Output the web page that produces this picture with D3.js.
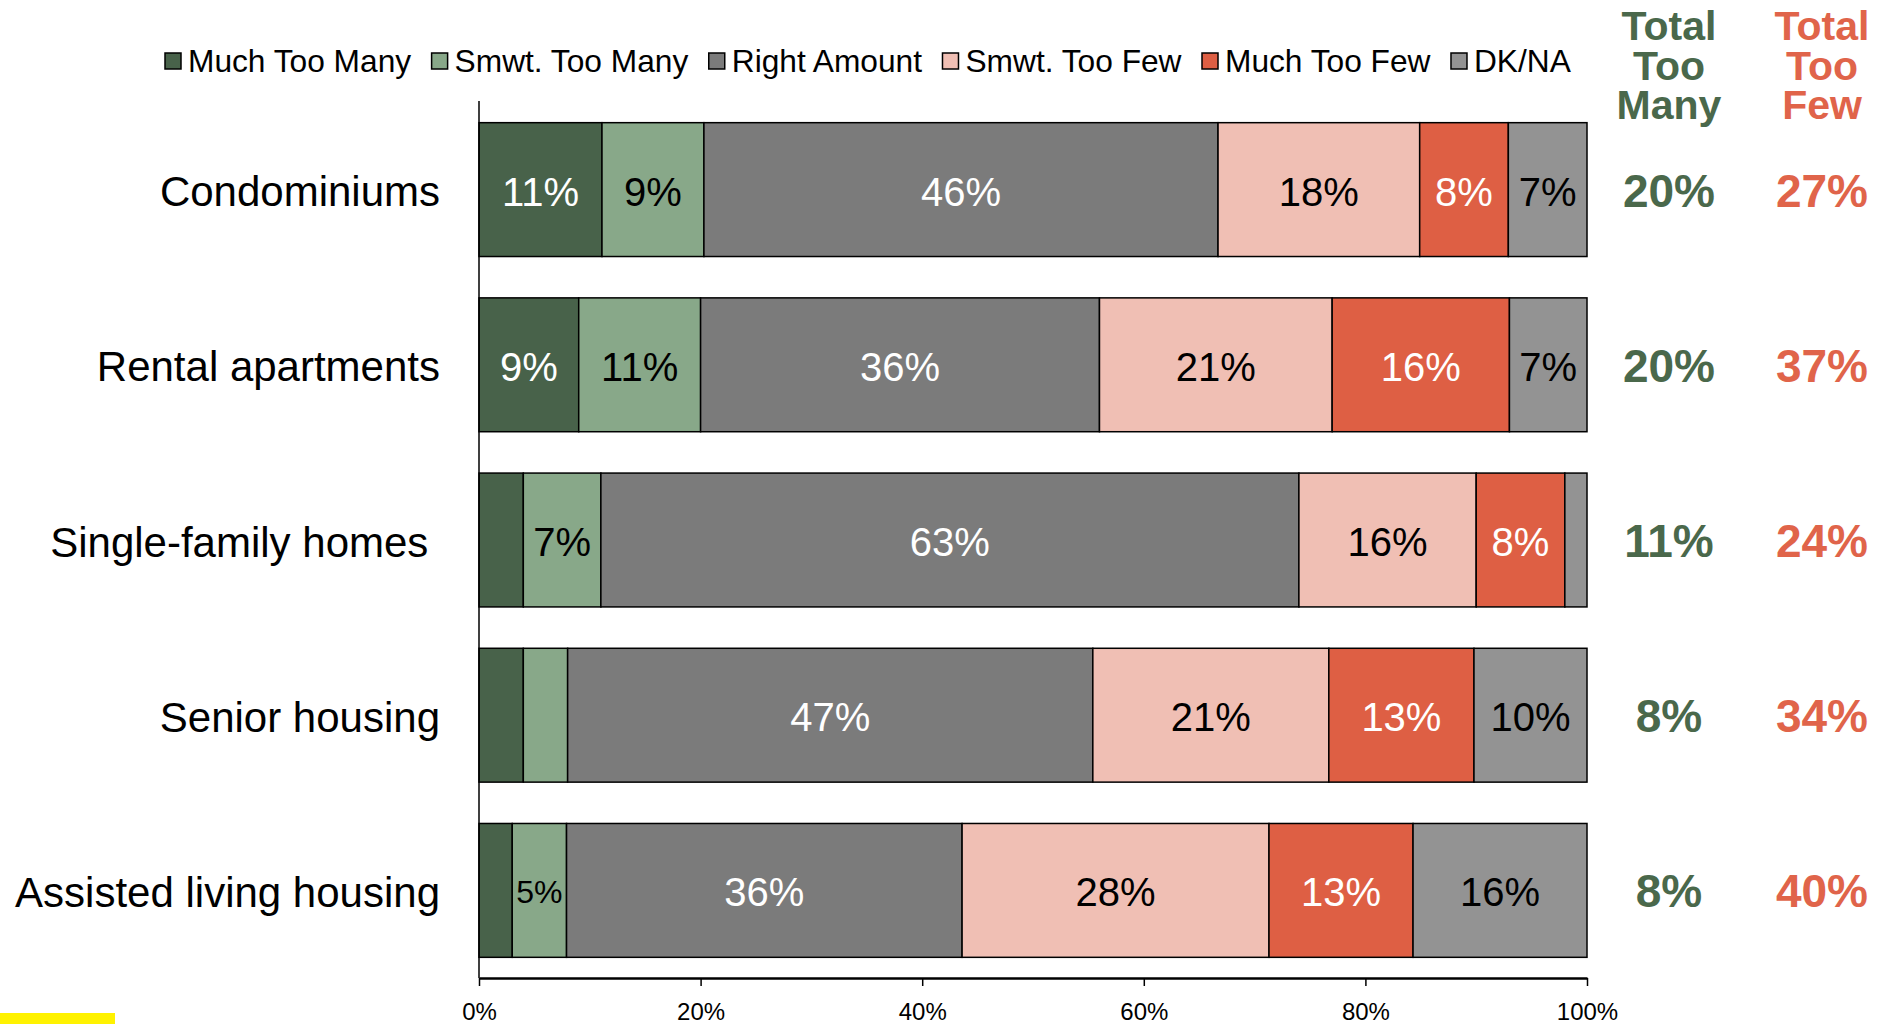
<!DOCTYPE html>
<html>
<head>
<meta charset="utf-8">
<script src="https://cdn.jsdelivr.net/npm/d3@7"></script>
<style>
  body { margin: 0; background: #fff; }
  svg { display: block; font-family: "Liberation Sans", Arial, sans-serif; }
</style>
</head>
<body>
<svg id="chart" width="1892" height="1024"></svg>
<script>
const categories = ['Condominiums', 'Rental apartments', 'Single-family homes ', 'Senior housing', 'Assisted living housing'];
const seriesNames = ['Much Too Many', 'Smwt. Too Many', 'Right Amount', 'Smwt. Too Few', 'Much Too Few', 'DK/NA'];
const seriesColors = ['#48624a', '#88a889', '#7b7b7b', '#f0bfb4', '#de5f44', '#939393'];
const labelColors = ['#fff', '#000', '#fff', '#000', '#fff', '#000'];

const muchTooMany = [11.1, 9.0, 4.0, 4.0, 3.0];
const smwtTooMany = [9.2, 11.0, 7.0, 4.0, 4.9];
const rightAmount = [46.4, 36.0, 63.0, 47.4, 35.7];
const smwtTooFew = [18.2, 21.0, 16.0, 21.3, 27.7];
const muchTooFew = [8.0, 16.0, 8.0, 13.1, 13.0];
const dkNa = [7.1, 7.0, 2.0, 10.2, 15.7];

const totalTooMany = [20, 20, 11, 8, 8];
const totalTooFew = [27, 37, 24, 34, 40];
const xTicks = [0, 20, 40, 60, 80, 100];

const series = [muchTooMany, smwtTooMany, rightAmount, smwtTooFew, muchTooFew, dkNa];

const margin = {top: 102, left: 479, right: 305, bottom: 46};
const svg = d3.select('#chart');
const width = +svg.attr('width') - margin.left - margin.right;
const height = +svg.attr('height') - margin.top - margin.bottom;

// one row per category, keys = series names
const table = categories.map(function(c, i) {
  const row = {category: c, index: i};
  seriesNames.forEach(function(s, j) { row[s] = series[j][i]; });
  return row;
});

const stacked = d3.stack().keys(seriesNames)(table);

const x = d3.scaleLinear().domain([0, 100]).range([0, width]);
const y = d3.scaleBand()
  .domain(categories)
  .range([0, height])
  .paddingInner(0.236)
  .paddingOuter(0.118);

const g = svg.append('g')
  .attr('transform', 'translate(' + margin.left + ',' + margin.top + ')');

// bars
const layers = g.selectAll('.layer')
  .data(stacked)
  .enter().append('g')
  .attr('class', 'layer');

layers.each(function(layer, li) {
  d3.select(this).selectAll('rect')
    .data(layer)
    .enter().append('rect')
    .attr('x', function(d) { return x(d[0]); })
    .attr('y', function(d) { return y(d.data.category); })
    .attr('width', function(d) { return x(d[1]) - x(d[0]); })
    .attr('height', y.bandwidth())
    .attr('fill', seriesColors[li])
    .attr('stroke', '#000')
    .attr('stroke-width', 1.5);
});

// value labels inside the segments
layers.each(function(layer, li) {
  d3.select(this).selectAll('text')
    .data(layer.filter(function(d) { return d[1] - d[0] >= 4.5; }))
    .enter().append('text')
    .attr('x', function(d) { return (x(d[0]) + x(d[1])) / 2; })
    .attr('y', function(d) { return y(d.data.category) + y.bandwidth() / 2 + 2; })
    .attr('text-anchor', 'middle')
    .attr('dominant-baseline', 'central')
    .attr('font-size', 40)
    .attr('fill', labelColors[li])
    .text(function(d) { return Math.round(d[1] - d[0]) + '%'; })
    .each(function(d) {
      // shrink labels that don't fit their segment
      const w = x(d[1]) - x(d[0]);
      const len = this.getComputedTextLength();
      if (len > w - 8) d3.select(this).attr('font-size', 40 * (w - 8) / len);
    });
});

// category labels
g.selectAll('.cat')
  .data(categories)
  .enter().append('text')
  .attr('class', 'cat')
  .attr('x', -39)
  .attr('y', function(d) { return y(d) + y.bandwidth() / 2 + 2; })
  .attr('text-anchor', 'end')
  .attr('dominant-baseline', 'central')
  .attr('font-size', 42)
  .style('white-space', 'pre')
  .text(function(d) { return d; });

// left axis line
g.append('line')
  .attr('x1', 0).attr('x2', 0)
  .attr('y1', -1).attr('y2', height)
  .attr('stroke', '#000')
  .attr('stroke-width', 1.5);

// bottom axis
const xAxis = g.append('g')
  .attr('class', 'axis axis-x')
  .attr('transform', 'translate(0,' + height + ')')
  .call(d3.axisBottom(x)
    .tickValues(xTicks)
    .tickFormat(function(d) { return d + '%'; })
    .tickSizeInner(8)
    .tickSizeOuter(0)
    .tickPadding(17));

xAxis.select('.domain').attr('stroke', '#000').attr('stroke-width', 2.5);
xAxis.selectAll('.tick line').attr('stroke', '#000').attr('stroke-width', 1.5);
xAxis.selectAll('.tick text')
  .attr('fill', '#000')
  .attr('font-size', 24)
  .attr('font-family', '"Liberation Sans", Arial, sans-serif');

// totals columns
const totalCols = [
  {head: ['Total', 'Too', 'Many'], values: totalTooMany, color: '#4a684b', dx: 82},
  {head: ['Total', 'Too', 'Few'], values: totalTooFew, color: '#e0644a', dx: 235}
];

totalCols.forEach(function(col) {
  const cx = width + col.dx;
  const head = g.append('text')
    .attr('text-anchor', 'middle')
    .attr('font-size', 41)
    .attr('font-weight', 'bold')
    .attr('fill', col.color);
  col.head.forEach(function(line, i) {
    head.append('tspan')
      .attr('x', cx)
      .attr('y', -margin.top + 40 + i * 39.5)
      .text(line);
  });

  g.selectAll(null)
    .data(col.values)
    .enter().append('text')
    .attr('x', cx)
    .attr('y', function(d, i) { return y(categories[i]) + y.bandwidth() / 2 + 1; })
    .attr('text-anchor', 'middle')
    .attr('dominant-baseline', 'central')
    .attr('font-size', 46)
    .attr('font-weight', 'bold')
    .attr('fill', col.color)
    .text(function(d) { return d + '%'; });
});

// legend
const legend = svg.append('g').attr('transform', 'translate(165,61)');
let lx = 0;
seriesNames.forEach(function(name, i) {
  const item = legend.append('g').attr('transform', 'translate(' + lx + ',0)');
  item.append('rect')
    .attr('x', 0).attr('y', -8)
    .attr('width', 16).attr('height', 16)
    .attr('fill', seriesColors[i])
    .attr('stroke', '#000')
    .attr('stroke-width', 1.5);
  const t = item.append('text')
    .attr('x', 23)
    .attr('y', 0)
    .attr('dominant-baseline', 'central')
    .attr('font-size', 31.7)
    .attr('fill', '#000')
    .text(name);
  lx += 23 + t.node().getComputedTextLength() + 20.5;
});

// small yellow marker at the bottom-left corner
svg.append('rect')
  .attr('x', 0).attr('y', 1013)
  .attr('width', 115).attr('height', 11)
  .attr('fill', '#fff200');
</script>
</body>
</html>
